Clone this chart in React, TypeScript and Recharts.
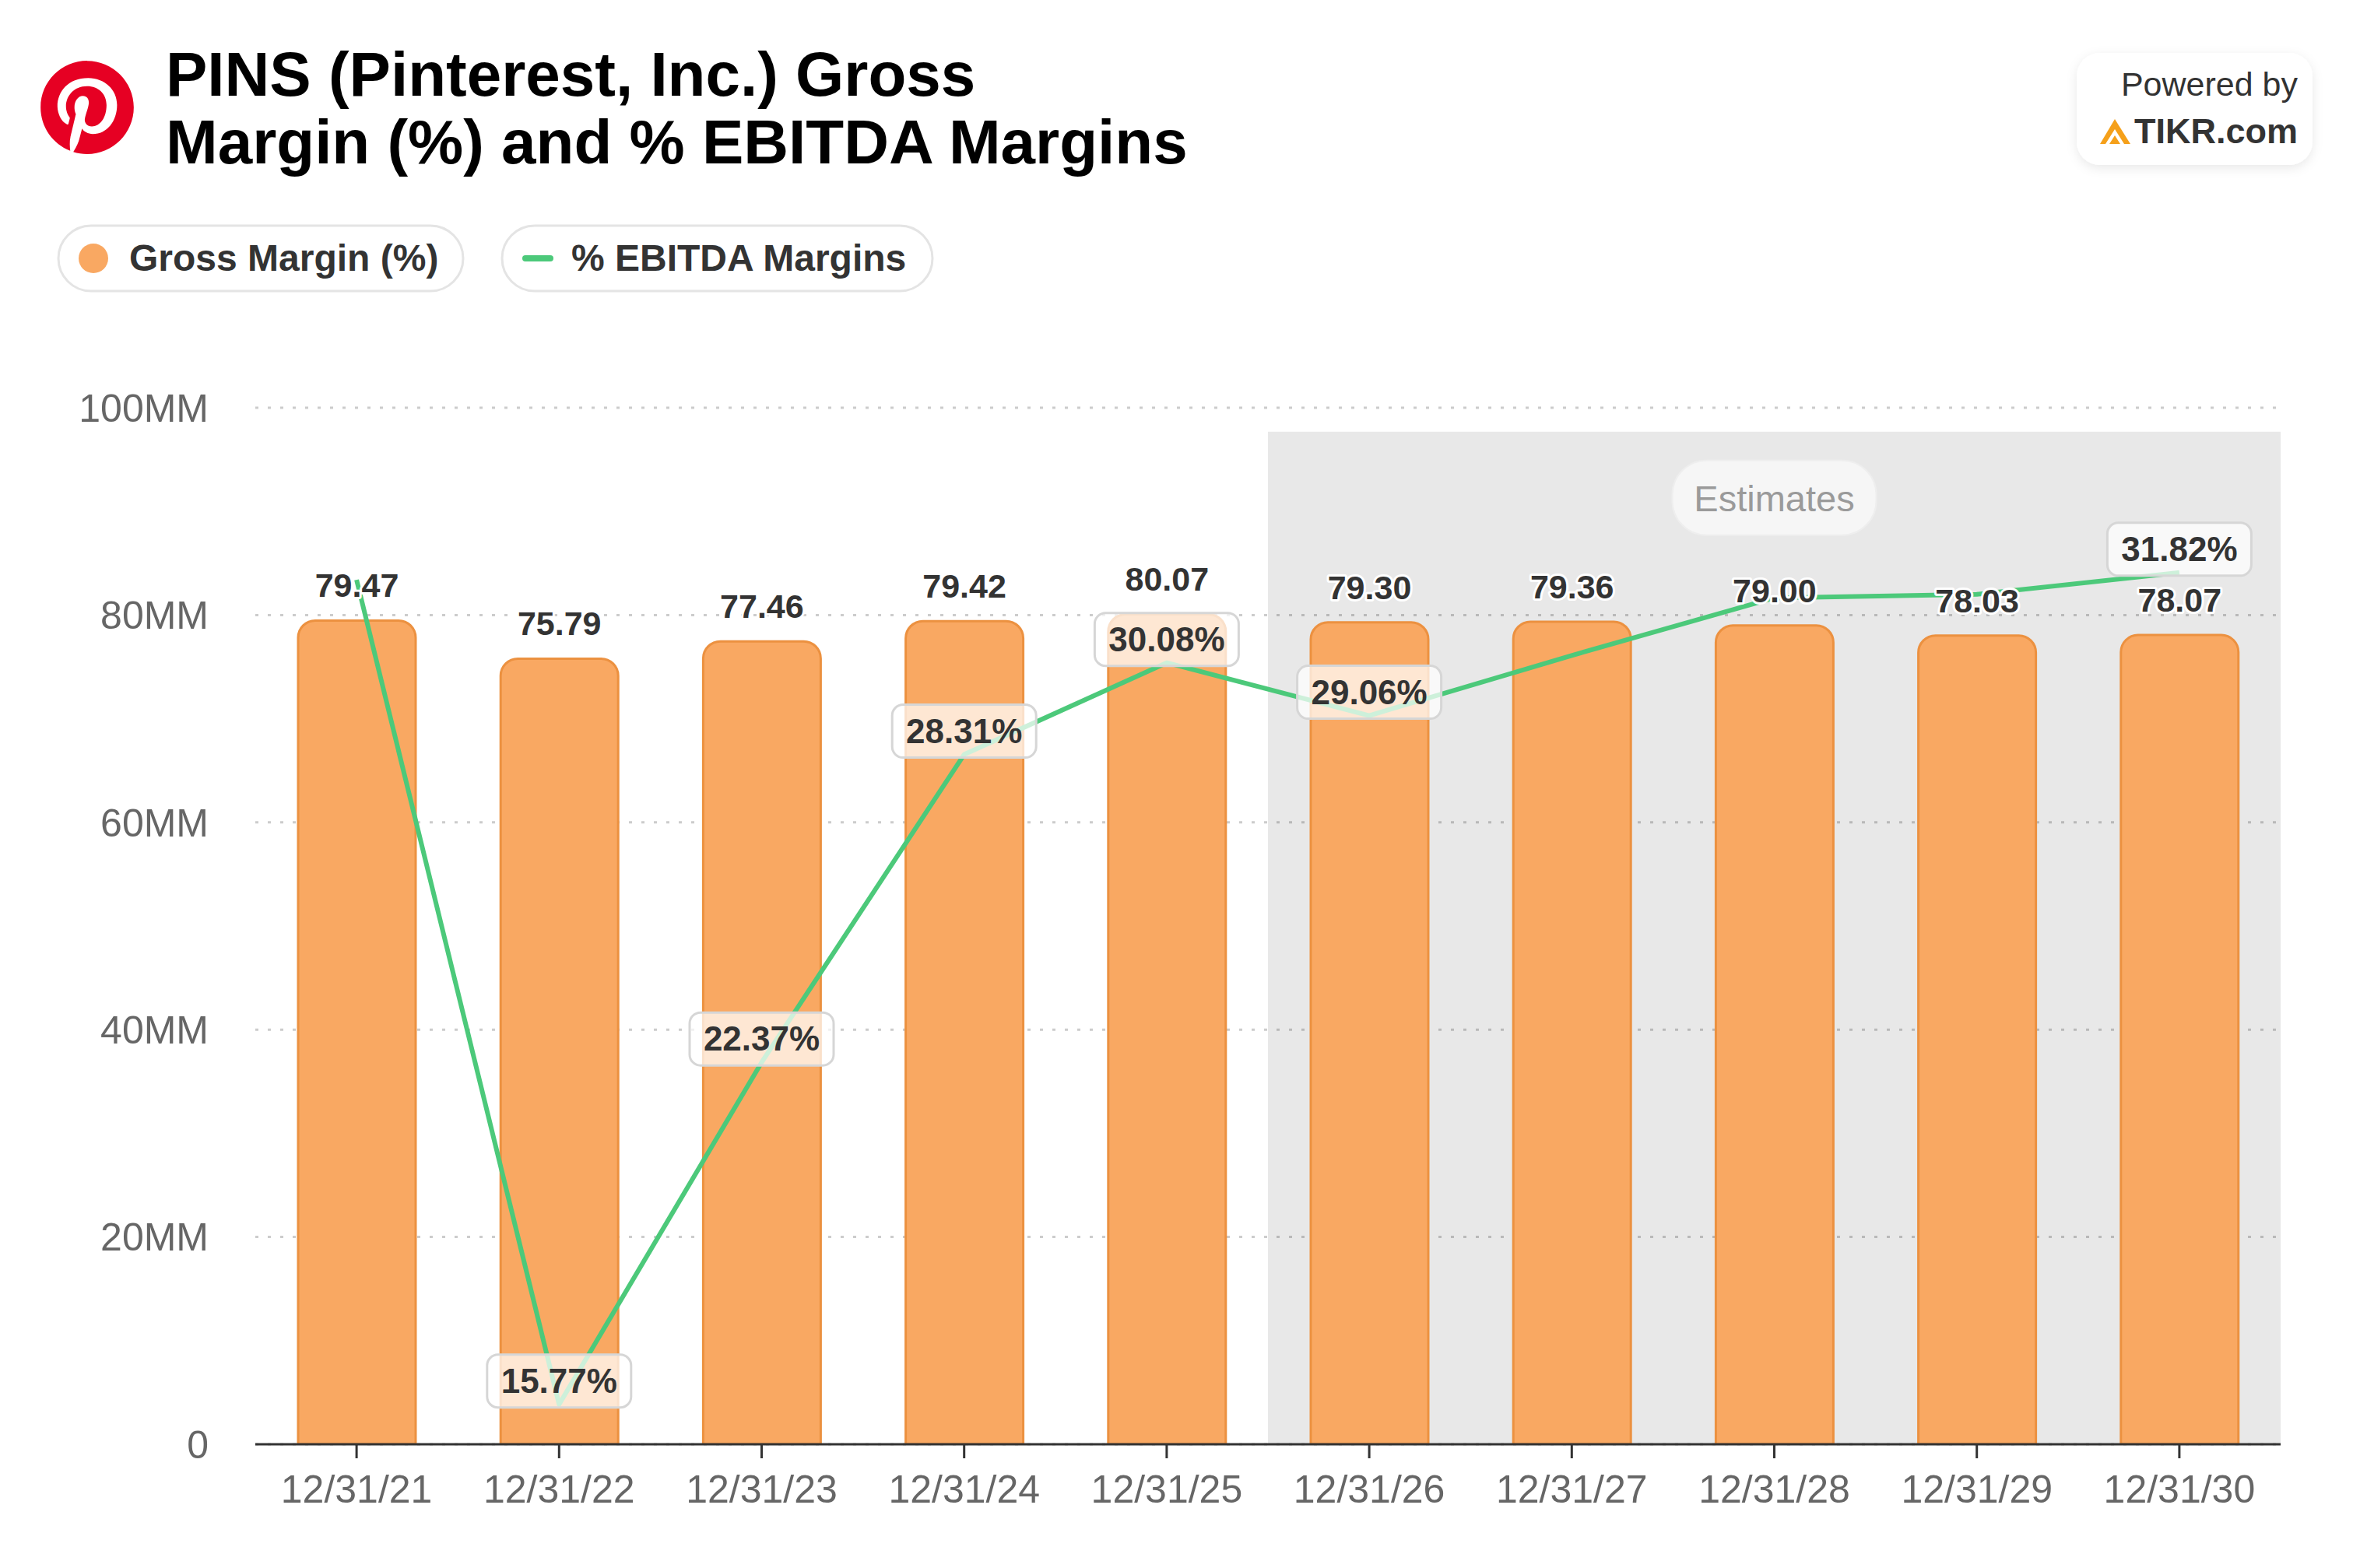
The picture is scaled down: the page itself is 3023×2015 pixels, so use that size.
import React from 'react';
import {
  ComposedChart,
  Bar,
  Line,
  XAxis,
  YAxis,
  CartesianGrid,
  ReferenceArea,
  LabelList,
} from 'recharts';

// ---------- data ----------
const categories = [
  '12/31/21', '12/31/22', '12/31/23', '12/31/24', '12/31/25',
  '12/31/26', '12/31/27', '12/31/28', '12/31/29', '12/31/30',
];
const grossMargin = [79.47, 75.79, 77.46, 79.42, 80.07, 79.3, 79.36, 79.0, 78.03, 78.07];
const ebitdaMargin = [31.68, 15.77, 22.37, 28.31, 30.08, 29.06, 30.22, 31.33, 31.4, 31.82];
const ebitdaLabelShown = [false, true, true, true, true, true, false, false, false, true];
const leftTicks = [0, 20, 40, 60, 80, 100];
const leftDomain = [0, 100];
const rightDomain = [15, 35];
const estimateStart = '12/31/26';
const estimateEnd = '12/31/30';
const estimateTop = 97.7;

const data = categories.map((c, i) => ({
  date: c,
  gm: grossMargin[i],
  ebitda: ebitdaMargin[i],
}));

// ---------- styles ----------
const W = 3023;
const H = 2015;
const FONT = '"Liberation Sans", Arial, Helvetica, sans-serif';
const ORANGE = '#f9a862';
const ORANGE_STROKE = '#ec9140';
const GREEN = '#4cc97a';
const TEXT_DARK = '#333333';
const AXIS_TEXT = '#666666';

function readBox(props: any) {
  const vb = props.viewBox || {};
  return {
    x: vb.x ?? props.x ?? 0,
    y: vb.y ?? props.y ?? 0,
    width: vb.width ?? props.width ?? 0,
    height: vb.height ?? props.height ?? 0,
  };
}

const BarValueLabel = (props: any) => {
  const { x, y, width } = readBox(props);
  const v = Number(props.value);
  if (!isFinite(v)) return null;
  return (
    <text
      x={x + width / 2}
      y={y - 30}
      textAnchor="middle"
      fontFamily={FONT}
      fontWeight="bold"
      fontSize={43}
      fill={TEXT_DARK}
      stroke="#ffffff"
      strokeWidth={6}
      strokeLinejoin="round"
      paintOrder="stroke"
    >
      {v.toFixed(2)}
    </text>
  );
};

const EbitdaLabel = (props: any) => {
  const { x, y } = readBox(props);
  const v = Number(props.value);
  let idx = typeof props.index === 'number' ? props.index : ebitdaMargin.indexOf(v);
  if (idx < 0) idx = ebitdaMargin.indexOf(v);
  if (idx < 0 || !ebitdaLabelShown[idx]) return null;
  const w = 185;
  const h = 68;
  return (
    <g>
      <rect
        x={x - w / 2}
        y={y - 64}
        width={w}
        height={h}
        rx={14}
        ry={14}
        fill="#ffffff"
        fillOpacity={0.72}
        stroke="#d6d6d6"
        strokeWidth={3}
      />
      <text
        x={x}
        y={y - 15}
        textAnchor="middle"
        fontFamily={FONT}
        fontWeight="bold"
        fontSize={44}
        fill={TEXT_DARK}
      >
        {`${v.toFixed(2)}%`}
      </text>
    </g>
  );
};

const EstimatesLabel = (props: any) => {
  const { x, y, width } = readBox(props);
  const cx = x + width / 2;
  const w = 262;
  const h = 96;
  return (
    <g>
      <rect
        x={cx - w / 2}
        y={y + 37}
        width={w}
        height={h}
        rx={44}
        ry={44}
        fill="#f6f6f6"
        stroke="#eeeeee"
        strokeWidth={2}
      />
      <text
        x={cx}
        y={y + 102}
        textAnchor="middle"
        fontFamily={FONT}
        fontSize={47}
        fill="#9a9a9a"
      >
        Estimates
      </text>
    </g>
  );
};

const leftTickFormat = (v: number) => (v === 0 ? '0' : `${v}MM`);

const Overlay = () => (
  <svg
    width={W}
    height={H}
    style={{ position: 'absolute', left: 0, top: 0, pointerEvents: 'none' }}
  >
    <defs>
      <filter id="softShadow" x="-20%" y="-30%" width="140%" height="160%">
        <feDropShadow dx="0" dy="4" stdDeviation="7" floodColor="#000" floodOpacity="0.09" />
      </filter>
    </defs>

    {/* Pinterest logo */}
    <g transform="translate(52,78) scale(5)">
      <path
        fill="#e60023"
        d="M12.017 0C5.396 0 .029 5.367.029 11.987c0 5.079 3.158 9.417 7.618 11.162-.105-.949-.199-2.403.041-3.439.219-.937 1.406-5.957 1.406-5.957s-.359-.72-.359-1.781c0-1.663.967-2.911 2.168-2.911 1.024 0 1.518.769 1.518 1.688 0 1.029-.653 2.567-.992 3.992-.285 1.193.6 2.165 1.775 2.165 2.128 0 3.768-2.245 3.768-5.487 0-2.861-2.063-4.869-5.008-4.869-3.41 0-5.409 2.562-5.409 5.199 0 1.033.394 2.143.889 2.741.099.12.112.225.085.345-.09.375-.293 1.199-.334 1.363-.053.225-.172.271-.401.165-1.495-.69-2.433-2.878-2.433-4.646 0-3.776 2.748-7.252 7.92-7.252 4.158 0 7.392 2.967 7.392 6.923 0 4.135-2.607 7.462-6.233 7.462-1.214 0-2.354-.629-2.758-1.379l-.749 2.848c-.269 1.045-1.004 2.352-1.498 3.146 1.123.345 2.306.535 3.55.535 6.607 0 11.985-5.365 11.985-11.987C23.97 5.39 18.592.026 11.985.026L12.017 0z"
      />
    </g>

    {/* Title */}
    <text x={213} y={123} fontFamily={FONT} fontWeight="bold" fontSize={80} fill="#000">
      PINS (Pinterest, Inc.) Gross
    </text>
    <text x={213} y={210} fontFamily={FONT} fontWeight="bold" fontSize={80} fill="#000">
      Margin (%) and % EBITDA Margins
    </text>

    {/* Legend */}
    <rect x={75} y={290} width={520} height={84} rx={42} ry={42} fill="#fff" stroke="#e4e4e4" strokeWidth={3} />
    <circle cx={120} cy={332} r={19} fill={ORANGE} />
    <text x={166} y={348} fontFamily={FONT} fontWeight="bold" fontSize={48} fill={TEXT_DARK}>
      Gross Margin (%)
    </text>
    <rect x={645} y={290} width={553} height={84} rx={42} ry={42} fill="#fff" stroke="#e4e4e4" strokeWidth={3} />
    <line x1={675} y1={332} x2={707} y2={332} stroke={GREEN} strokeWidth={8} strokeLinecap="round" />
    <text x={734} y={348} fontFamily={FONT} fontWeight="bold" fontSize={48} fill={TEXT_DARK}>
      % EBITDA Margins
    </text>

    {/* Powered by */}
    <rect x={2668} y={68} width={303} height={144} rx={30} ry={30} fill="#fff" filter="url(#softShadow)" />
    <text x={2952} y={123} textAnchor="end" fontFamily={FONT} fontSize={43} fill={TEXT_DARK}>
      Powered by
    </text>
    <text x={2952} y={184} textAnchor="end" fontFamily={FONT} fontWeight="bold" fontSize={45} fill={TEXT_DARK}>
      TIKR.com
    </text>
    <path
      fill="#f5a01a"
      fillRule="evenodd"
      d="M2698 185 L2717 153 L2737 185 L2729 185 L2717 166 L2705 185 Z M2710 185 L2717 174 L2724 185 Z"
    />
  </svg>
);

export default function App() {
  return (
    <div
      style={{
        position: 'absolute',
        left: 0,
        top: 0,
        width: W,
        height: H,
        background: '#ffffff',
        fontFamily: FONT,
        overflow: 'hidden',
      }}
    >
      <div style={{ position: 'absolute', left: 0, top: 0 }}>
        <ComposedChart
          width={W}
          height={H}
          data={data}
          margin={{ top: 524, right: 93, bottom: 79, left: 0 }}
        >
          <ReferenceArea
            yAxisId="left"
            x1={estimateStart}
            x2={estimateEnd}
            y1={0}
            y2={estimateTop}
            fill="#000000"
            fillOpacity={0.09}
            stroke="none"
            ifOverflow="visible"
            label={<EstimatesLabel />}
          />
          <CartesianGrid
            yAxisId="left"
            vertical={false}
            stroke="#cccccc"
            strokeWidth={3}
            strokeDasharray="4 12"
          />
          <XAxis
            dataKey="date"
            interval={0}
            height={80}
            tick={{ fill: AXIS_TEXT, fontSize: 50, fontFamily: FONT }}
            tickSize={18}
            tickMargin={21}
            axisLine={{ stroke: '#333333', strokeWidth: 3 }}
            tickLine={{ stroke: '#333333', strokeWidth: 3 }}
          />
          <YAxis
            yAxisId="left"
            orientation="left"
            width={328}
            domain={leftDomain}
            ticks={leftTicks}
            interval={0}
            tickFormatter={leftTickFormat}
            tick={{ fill: AXIS_TEXT, fontSize: 50, fontFamily: FONT }}
            tickSize={0}
            tickMargin={60}
            axisLine={false}
            tickLine={false}
            allowDataOverflow
          />
          <YAxis yAxisId="right" orientation="right" domain={rightDomain} hide allowDataOverflow />
          <Bar
            yAxisId="left"
            dataKey="gm"
            barSize={151}
            fill={ORANGE}
            stroke={ORANGE_STROKE}
            strokeWidth={3}
            radius={[22, 22, 0, 0]}
            isAnimationActive={false}
          >
            <LabelList dataKey="gm" content={<BarValueLabel />} />
          </Bar>
          <Line
            yAxisId="right"
            type="linear"
            dataKey="ebitda"
            stroke={GREEN}
            strokeWidth={6}
            strokeLinejoin="round"
            dot={false}
            activeDot={false}
            isAnimationActive={false}
          >
            <LabelList dataKey="ebitda" content={<EbitdaLabel />} />
          </Line>
        </ComposedChart>
      </div>
      <Overlay />
    </div>
  );
}
